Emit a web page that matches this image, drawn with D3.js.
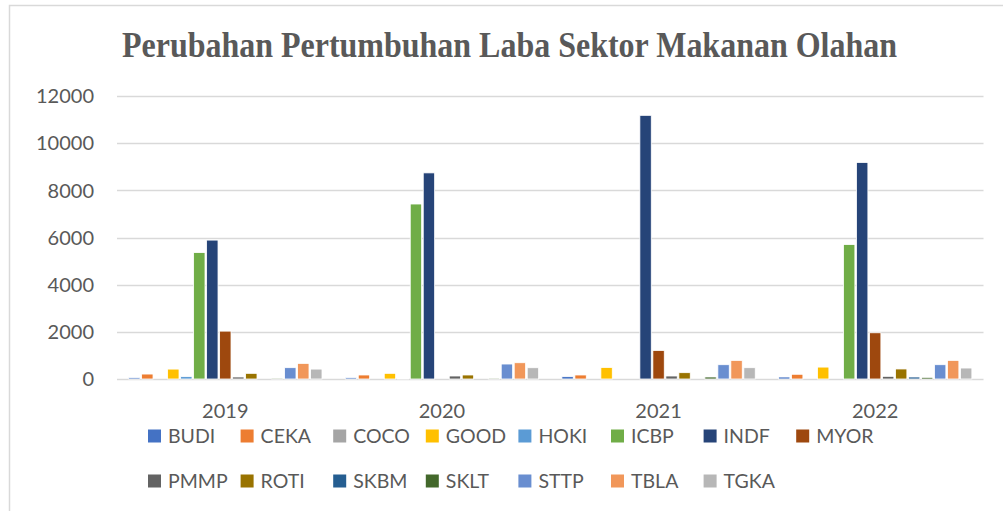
<!DOCTYPE html>
<meta charset="utf-8">
<style>
  body { margin: 0; background: #fff; }
  text { font-family: Lato, "Open Sans", sans-serif; fill: #595959; }
  .title { font-family: "Liberation Serif", "Times New Roman", serif; font-weight: bold; }
</style>
<body>
<script src="https://d3js.org/d3.v7.min.js"></script>
<script>

// data
var years = ["2019", "2020", "2021", "2022"];
var companies = ["BUDI", "CEKA", "COCO", "GOOD", "HOKI", "ICBP", "INDF", "MYOR",
                 "PMMP", "ROTI", "SKBM", "SKLT", "STTP", "TBLA", "TGKA"];
var colors = ["#4472C4", "#ED7D31", "#A5A5A5", "#FFC000", "#5B9BD5", "#70AD47", "#264478", "#9E480E",
              "#636363", "#997300", "#255E91", "#43682B", "#698ED0", "#F1975A", "#B7B7B7"];
// one row per company, one value per year
var values = [
  [55, 55, 100, 85],        // BUDI
  [210, 170, 170, 200],     // CEKA
  [0, 0, 0, 0],             // COCO
  [420, 240, 490, 505],     // GOOD
  [100, 30, 0, 0],          // HOKI
  [5360, 7420, 0, 5700],    // ICBP
  [5890, 8740, 11180, 9180],// INDF
  [2030, 0, 1210, 1960],    // MYOR
  [85, 127, 127, 113],      // PMMP
  [240, 170, 268, 425],     // ROTI
  [0, 0, 0, 85],            // SKBM
  [40, 40, 85, 70],         // SKLT
  [480, 635, 606, 606],     // STTP
  [662, 690, 789, 789],     // TBLA
  [420, 478, 479, 465]      // TGKA
];
var yTicks = [0, 2000, 4000, 6000, 8000, 10000, 12000];

var W = 1003, H = 511;
var svg = d3.select("body").append("svg").attr("width", W).attr("height", H);

// outer chart frame (cut off at right and bottom)
svg.append("rect")
  .attr("x", 9.5).attr("y", 5.5).attr("width", 1200).attr("height", 700)
  .attr("fill", "#fff").attr("stroke", "#D9D9D9").attr("stroke-width", 1.5);

// title (narrow, tall serif like the original)
svg.append("text")
  .attr("class", "title")
  .attr("x", 122).attr("y", 57)
  .attr("font-size", 35)
  .attr("textLength", 775).attr("lengthAdjust", "spacingAndGlyphs")
  .text("Perubahan Pertumbuhan Laba Sektor Makanan Olahan");

var plotLeft = 117, plotRight = 983.5, plotTop = 96, plotBottom = 379;

var x0 = d3.scaleBand().domain(years).range([plotLeft, plotRight]);
var x1 = d3.scaleBand().domain(companies)
  .range([x0.bandwidth() * 0.05, x0.bandwidth() * 0.95]);
var y = d3.scaleLinear().domain([0, 12000]).range([plotBottom, plotTop]);

// gridlines
svg.append("g").selectAll("line")
  .data(yTicks)
  .enter().append("line")
  .attr("x1", plotLeft).attr("x2", plotRight)
  .attr("y1", function(d) { return Math.round(y(d)) + 0.5; })
  .attr("y2", function(d) { return Math.round(y(d)) + 0.5; })
  .attr("stroke", "#D9D9D9").attr("stroke-width", 1.5);

// y labels
svg.append("g").selectAll("text")
  .data(yTicks)
  .enter().append("text")
  .attr("x", 94).attr("y", function(d) { return y(d); })
  .attr("dy", "0.36em")
  .attr("text-anchor", "end")
  .attr("font-size", 20)
  .text(function(d) { return d; });

// x labels
svg.append("g").selectAll("text")
  .data(years)
  .enter().append("text")
  .attr("x", function(d) { return x0(d) + x0.bandwidth() / 2; })
  .attr("y", 418)
  .attr("text-anchor", "middle")
  .attr("font-size", 20)
  .text(function(d) { return d; });

// bars
var rows = [];
companies.forEach(function(c, i) {
  years.forEach(function(yr, j) {
    rows.push({ company: c, year: yr, value: values[i][j], color: colors[i] });
  });
});

svg.append("g").selectAll("rect")
  .data(rows.filter(function(d) { return d.value > 0; }))
  .enter().append("rect")
  .attr("x", function(d) { return x0(d.year) + x1(d.company) + 0.8; })
  .attr("width", x1.bandwidth() - 1.6)
  .attr("y", function(d) { return y(d.value); })
  .attr("height", function(d) { return plotBottom - y(d.value); })
  .attr("fill", function(d) { return d.color; })
  .attr("stroke", "#fff").attr("stroke-width", 0.8);

// legend
var legend = svg.append("g").selectAll("g")
  .data(companies)
  .enter().append("g")
  .attr("transform", function(d, i) {
    var col = i % 8, row = Math.floor(i / 8);
    return "translate(" + (148 + col * 92.6) + "," + (436 + row * 45) + ")";
  });

legend.append("rect")
  .attr("x", 0).attr("y", -6.5).attr("width", 13).attr("height", 13)
  .attr("fill", function(d, i) { return colors[i]; });

legend.append("text")
  .attr("x", 20).attr("y", 0).attr("dy", "0.36em")
  .attr("font-size", 19.5)
  .text(function(d) { return d; });

</script>
</body>
